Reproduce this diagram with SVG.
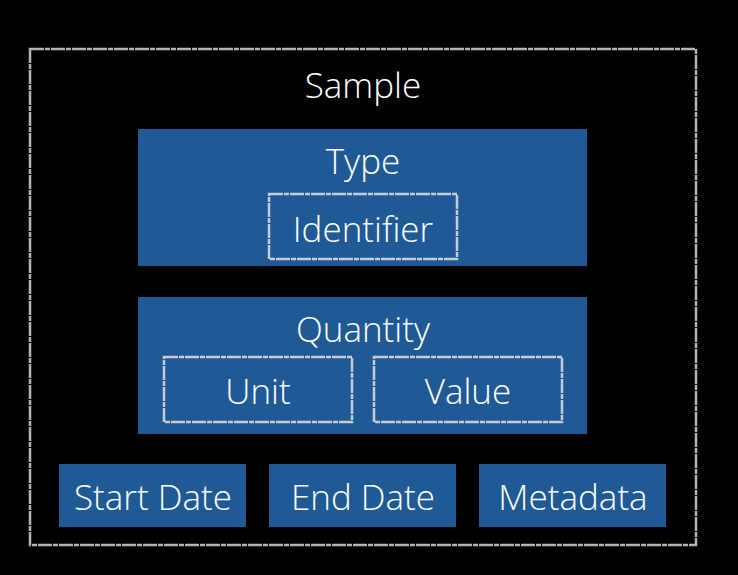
<svg xmlns="http://www.w3.org/2000/svg" width="738" height="575" viewBox="0 0 738 575">
<style>
.box{fill:#1f5a96}
.sk{fill:none;stroke:#c4cdd6;stroke-width:2.5;stroke-dasharray:14 1 5 1}
.outer{fill:none;stroke:#b5b5b5;stroke-width:2.5;stroke-dasharray:14 1 5 1}
text{font-family:"Open Sans","Liberation Sans",sans-serif;font-weight:300;fill:#ffffff;text-anchor:middle;font-size:35px}
</style>
<rect width="738" height="575" fill="#000"/>
<g id="sample">
<rect class="outer" x="30" y="49" width="666" height="496"/>
<text x="363" y="98">Sample</text>
</g>
<g id="type">
<rect class="box" x="138" y="129" width="449" height="137"/>
<text x="363" y="174">Type</text>
</g>
<g id="identifier">
<rect class="sk" x="269" y="194" width="188" height="65"/>
<text x="363" y="242">Identifier</text>
</g>
<g id="quantity">
<rect class="box" x="138" y="297" width="449" height="137"/>
<text x="363" y="342">Quantity</text>
</g>
<g id="unit">
<rect class="sk" x="164" y="357" width="188" height="65"/>
<text x="258" y="404">Unit</text>
</g>
<g id="value">
<rect class="sk" x="374" y="357" width="188" height="65"/>
<text x="468" y="404">Value</text>
</g>
<g id="startdate">
<rect class="box" x="59" y="464" width="187" height="63"/>
<text x="153" y="510">Start Date</text>
</g>
<g id="enddate">
<rect class="box" x="269" y="464" width="187" height="63"/>
<text x="363" y="510">End Date</text>
</g>
<g id="metadata">
<rect class="box" x="479" y="464" width="187" height="63"/>
<text x="573" y="510">Metadata</text>
</g>
<g id="connectors"></g>
</svg>
